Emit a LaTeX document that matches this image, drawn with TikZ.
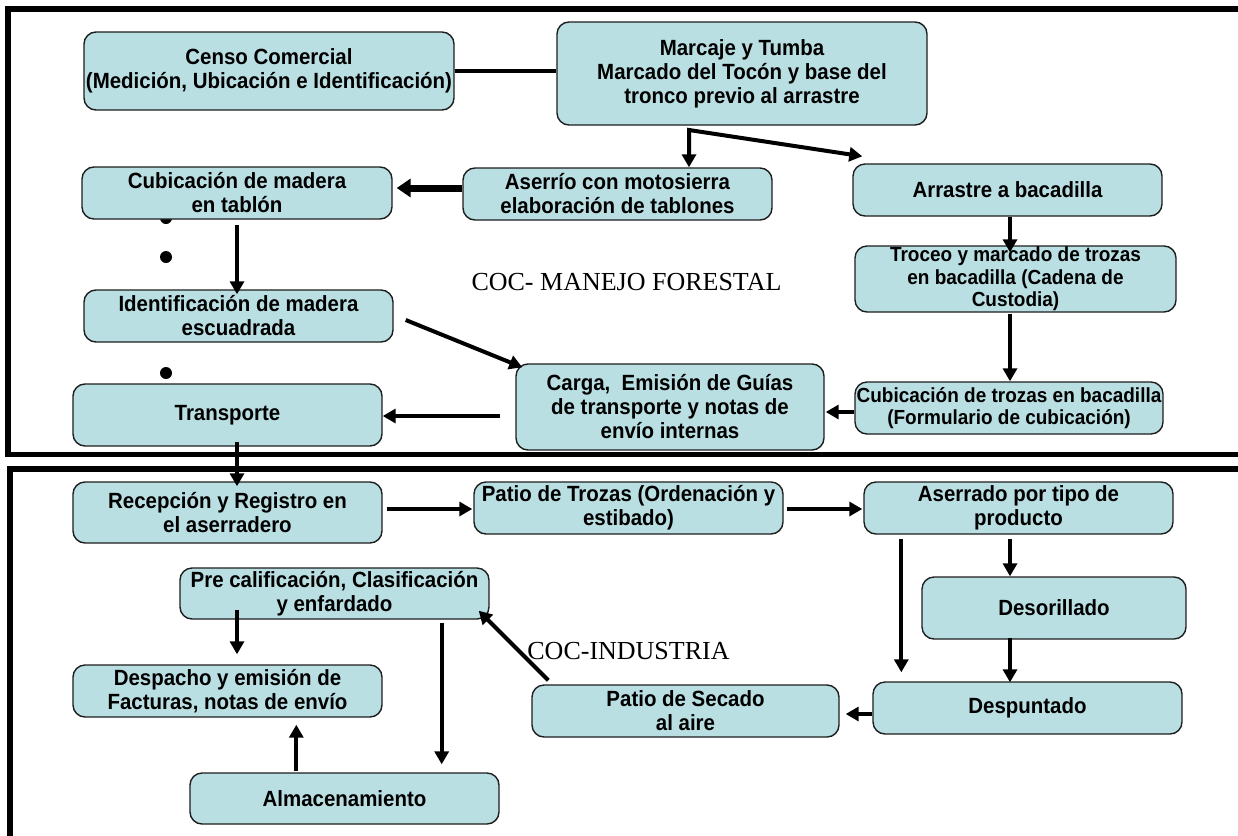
\documentclass[tikz,border=0pt]{standalone}
\usepackage{fontspec}
\setmainfont{Liberation Sans}[FakeStretch=0.93]
\newfontfamily\serifx{Liberation Serif}
\usetikzlibrary{arrows.meta,calc}
\definecolor{boxfill}{HTML}{B9DFE3}
\definecolor{boxline}{HTML}{1E1E1E}
\begin{document}
\begin{tikzpicture}[x=1pt,y=-1pt,
  box/.style={draw=boxline, line width=1.4pt, fill=boxfill, rounded corners=12pt,
    inner sep=0pt, align=center, font=\fontsize{22}{24}\selectfont\bfseries},
  smalltext/.style={font=\fontsize{20.4}{22.5}\selectfont\bfseries},
  arr/.style={line width=4pt, -{Triangle[length=13pt,width=14pt]}},
  thickarr/.style={line width=7pt, -{Triangle[length=14pt,width=18pt]}},
  frame/.style={line width=5.5pt},
  label/.style={font=\serifx\fontsize{26}{30}\selectfont, anchor=base, inner sep=0pt}]
\useasboundingbox (0,0) rectangle (1238,835);
\fill[white] (0,0) rectangle (1238,835);

% frames
\draw[frame] (1250,9) -- (8,9) -- (8,454.5) -- (1250,454.5);
\draw[frame] (1250,469) -- (10,469) -- (10,850);

% bullets
\fill (166,218) circle (6);
\fill (166,257) circle (6);
\fill (166,373) circle (6);

% boxes
\node[box, minimum width=370pt, minimum height=78pt] (censo) at (269,71)
  {Censo Comercial\\(Medición, Ubicación e Identificación)};
\node[box, minimum width=370pt, minimum height=103pt] (marcaje) at (742,73.5)
  {Marcaje y Tumba\\Marcado del Tocón y base del\\tronco previo al arrastre};
\node[box, minimum width=310pt, minimum height=52pt] (cubmad) at (237,193)
  {Cubicación de madera\\en tablón};
\node[box, minimum width=309pt, minimum height=52pt] (aserrio) at (617.5,194)
  {Aserrío con motosierra\\elaboración de tablones};
\node[box, minimum width=309pt, minimum height=52pt] (arrastre) at (1007.5,190)
  {Arrastre a bacadilla};
\node[box, smalltext, minimum width=321pt, minimum height=66pt] (troceo) at (1015.5,279)
  {Troceo y marcado de trozas\\en bacadilla (Cadena de\\Custodia)};
\node[box, minimum width=309pt, minimum height=52pt] (identif) at (238.5,316)
  {Identificación de madera\\escuadrada};
\node[box, minimum width=308pt, minimum height=86pt] (carga) at (670,407)
  {Carga,\ \ Emisión de Guías\\de transporte y notas de\\envío internas};
\node[box, smalltext, minimum width=308pt, minimum height=52pt] (cubtroz) at (1009,408)
  {Cubicación de trozas en bacadilla\\(Formulario de cubicación)};
\node[box, minimum width=309pt, minimum height=62pt] (transporte) at (227.5,415)
  {Transporte};

\node[box, minimum width=309pt, minimum height=61pt] (recepcion) at (227.5,512.5)
  {Recepción y Registro en\\el aserradero};
\node[box, minimum width=309pt, minimum height=52pt] (patio) at (628.5,508)
  {Patio de Trozas (Ordenación y\\estibado)};
\node[box, minimum width=309pt, minimum height=52pt] (aserrado) at (1018.5,508)
  {Aserrado por tipo de\\producto};
\node[box, minimum width=309pt, minimum height=51pt] (precal) at (334.5,593.5)
  {Pre calificación, Clasificación\\y enfardado};
\node[box, minimum width=264pt, minimum height=62pt] (desorillado) at (1054,608)
  {Desorillado};
\node[box, minimum width=309pt, minimum height=52pt] (despacho) at (227.5,691)
  {Despacho y emisión de\\Facturas, notas de envío};
\node[box, minimum width=307pt, minimum height=52pt] (secado) at (685.5,711)
  {Patio de Secado\\al aire};
\node[box, minimum width=309pt, minimum height=52pt] (despuntado) at (1027.5,708)
  {Despuntado};
\node[box, minimum width=309pt, minimum height=51pt] (almac) at (344.5,798.5)
  {Almacenamiento};

% section labels
\node[label] (manejo) at (626.5,290) {COC- MANEJO FORESTAL};
\node[label] (industria) at (628.5,659) {COC-INDUSTRIA};

% connectors
\draw[line width=4pt] (censo.east) -- (censo.east -| marcaje.west);
\coordinate (split) at (689,130);
\draw[line width=4pt, {Triangle[length=13pt,width=14pt]}-{Triangle[length=13pt,width=14pt]}]
  (split |- aserrio.north) -- (split) -- ($(arrastre.north west)+(10,-7)$);
\draw[thickarr] ($(aserrio.west)+(0,-6)$) -- ($(cubmad.east)+(4,-5)$);
\draw[arr] ($(cubmad.south)+(0,5)$) -- ($(cubmad.south |- identif.north)+(0,5)$);
\draw[arr] ($(identif.east)+(12,4)$) -- ($(carga.north west)+(7,4)$);
\draw[arr] ($(arrastre.south)+(2.5,0)$) -- ($(arrastre.south |- troceo.north)+(2.5,7)$);
\draw[arr] ($(arrastre.south |- troceo.south)+(2.5,1)$) -- ($(arrastre.south |- cubtroz.north)+(2.5,0)$);
\draw[arr] ($(cubtroz.west)+(0,4)$) -- ($(carga.east)+(1,5)$);
\draw[arr] ($(carga.west)+(-15,9)$) -- ($(transporte.east)+(0,1)$);
\draw[arr] ($(transporte.south)+(9.5,-5)$) -- ($(transporte.south |- recepcion.north)+(9.5,5)$);
\draw[arr] ($(recepcion.east)+(4,-3.5)$) -- ($(patio.west)+(-1,1)$);
\draw[arr] ($(patio.east)+(3,1)$) -- ($(aserrado.west)+(-1,1)$);
\draw[arr] ($(aserrado.south)+(-8.5,4)$) -- ($(aserrado.south |- desorillado.north)+(-8.5,0)$);
\draw[arr] ($(aserrado.south west)+(38,4)$) -- ($(aserrado.south west |- despuntado.north)+(38,-9)$);
\draw[arr] ($(aserrado.south |- desorillado.south)+(-8.5,-2)$) -- ($(aserrado.south |- despuntado.north)+(-8.5,1)$);
\draw[arr] ($(despuntado.west)+(0,6)$) -- ($(secado.east)+(6,3)$);
\draw[arr] ($(secado.north west)+(17,-4)$) -- ($(precal.south east)+(-11,-9)$);
\draw[arr] ($(precal.south -| despacho.north)+(9.5,-10)$) -- ($(despacho.north)+(9.5,-10)$);
\draw[arr] ($(precal.south east)+(-48,3)$) -- ($(precal.south east |- almac.north)+(-48,-8)$);
\draw[arr] ($(almac.north west)+(107,-1)$) -- ($(almac.north west |- despacho.south)+(107,7)$);
\end{tikzpicture}
\end{document}
